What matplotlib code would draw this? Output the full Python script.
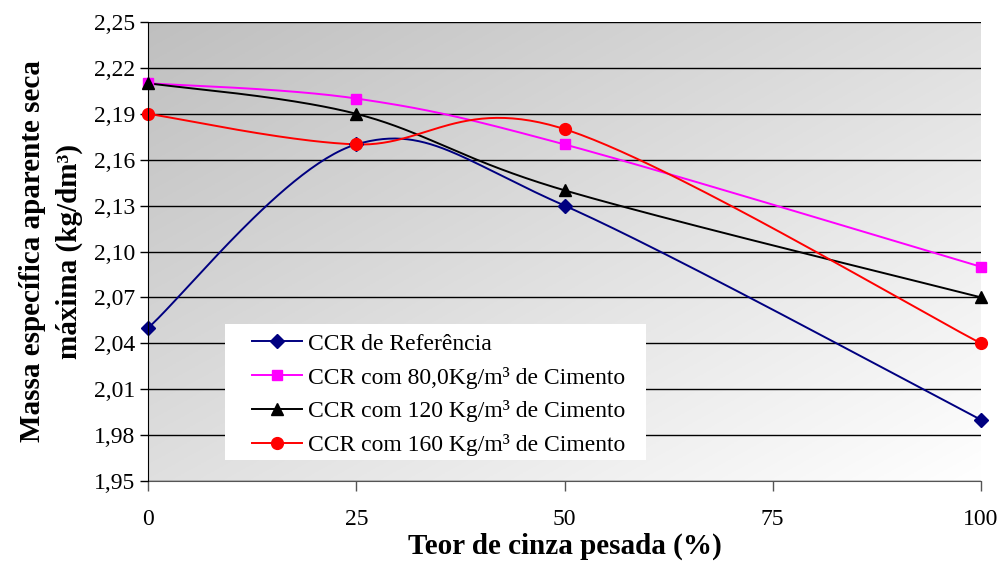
import numpy as np
import matplotlib
matplotlib.use("Agg")
import matplotlib.pyplot as plt
from matplotlib.lines import Line2D
from matplotlib.patches import Rectangle

plt.rcParams['font.family'] = ['Liberation Serif', 'DejaVu Serif']

x_teor = [0, 25, 50, 100]
ref = [2.05, 2.17, 2.13, 1.99]
c80 = [2.21, 2.20, 2.17, 2.09]
c120 = [2.21, 2.19, 2.14, 2.07]
c160 = [2.19, 2.17, 2.18, 2.04]
series_labels = ["CCR de Referência", "CCR com 80,0Kg/m³ de Cimento",
                 "CCR com 120 Kg/m³ de Cimento", "CCR com 160 Kg/m³ de Cimento"]
y_ticks = [1.95, 1.98, 2.01, 2.04, 2.07, 2.10, 2.13, 2.16, 2.19, 2.22, 2.25]
x_ticks = [0, 25, 50, 75, 100]


def excel_smooth(xs, ys, n=60):
    P = np.column_stack([xs, ys]).astype(float)
    out = []
    m = len(P)
    for i in range(m - 1):
        p0 = P[i - 1] if i > 0 else P[i]
        p1 = P[i]
        p2 = P[i + 1]
        p3 = P[i + 2] if i + 2 < m else P[i + 1]
        c1 = p1 + (p2 - p0) / 6.0
        c2 = p2 - (p3 - p1) / 6.0
        t = np.linspace(0, 1, n)[:, None]
        seg = ((1 - t) ** 3) * p1 + 3 * ((1 - t) ** 2) * t * c1 + 3 * (1 - t) * t ** 2 * c2 + t ** 3 * p2
        if i > 0:
            seg = seg[1:]
        out.append(seg)
    out = np.vstack(out)
    return out[:, 0], out[:, 1]


fig = plt.figure(figsize=(10.02, 5.63), dpi=100)
ax = fig.add_axes([148 / 1002, 1 - 481 / 563, (981 - 148) / 1002, (481 - 22) / 563])
ax.set_xlim(0, 100)
ax.set_ylim(1.95, 2.25)

# gradient background: dark top-left -> white bottom-right
gx, gy = np.meshgrid(np.linspace(0, 1, 300), np.linspace(0, 1, 200))
g = (gx + gy) / 2.0  # row 0 is top
val = 0.75 + 0.25 * g
rgb = np.dstack([val, val, val])
ax.imshow(rgb, extent=[0, 100, 1.95, 2.25], origin='upper', aspect='auto', zorder=0)

for yv in y_ticks:
    ax.axhline(yv, color='black', lw=1.0, zorder=1)

styles = [
    (ref, '#000080', 'D', 7),
    (c80, '#FF00FF', 's', 7.5),
    (c120, '#000000', '^', 8.5),
    (c160, '#FF0000', 'o', 8.5),
]
handles = []
for (ys, col, mk, ms), lab in zip(styles, series_labels):
    sx, sy = excel_smooth(x_teor, ys)
    ax.plot(sx, sy, color=col, lw=1.4, zorder=3, clip_on=False)
    ax.plot(x_teor, ys, ls='none', marker=mk, color=col, ms=ms, zorder=4, clip_on=False)
    handles.append(Line2D([0], [0], color=col, lw=1.4, marker=mk, ms=ms, label=lab))

for s in ['top', 'right']:
    ax.spines[s].set_visible(False)
ax.spines['left'].set_color('black')
ax.spines['bottom'].set_color('#555555')
ax.spines['left'].set_zorder(5)

ax.set_yticks(y_ticks)
ax.set_yticklabels([f"{v:.2f}".replace('.', ',') for v in y_ticks])
ax.set_xticks(x_ticks)
ax.set_xticklabels([str(v) for v in x_ticks])
ax.tick_params(axis='y', direction='out', length=6, width=1, labelsize=17, pad=3)
ax.tick_params(axis='x', direction='out', length=7, width=1, labelsize=17, pad=13, color='#555555')

ax.set_xlabel("Teor de cinza pesada (%)", fontsize=21, fontweight='bold', labelpad=2)
ax.set_ylabel("Massa específica aparente seca\nmáxima (kg/dm³)", fontsize=21,
              fontweight='bold', labelpad=8, linespacing=1.45)

# legend box
ax.add_patch(Rectangle((0.0924, 0.046), 0.505, 0.296, transform=ax.transAxes,
                       facecolor='white', edgecolor='none', zorder=5))
leg = ax.legend(handles=handles, loc='upper left', bbox_to_anchor=(0.125, 0.322),
                fontsize=17, frameon=False, handlelength=2.1, handletextpad=0.25,
                borderaxespad=0, labelspacing=0.5, borderpad=0)
leg.set_zorder(6)

fig.savefig("out.png", dpi=100)
